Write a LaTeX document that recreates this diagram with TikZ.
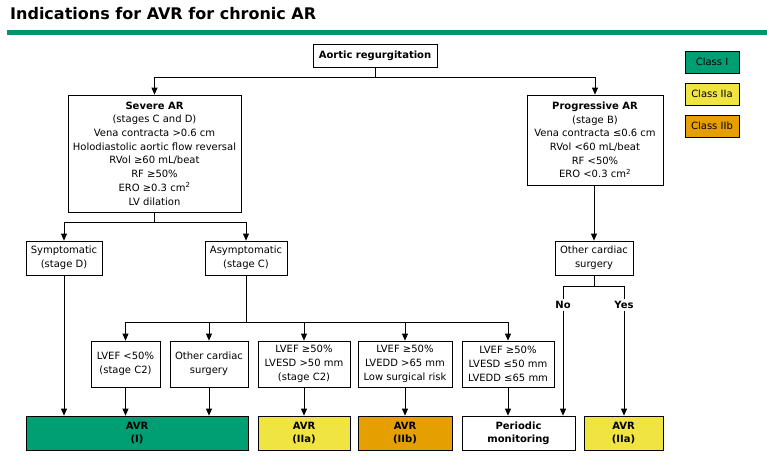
\documentclass[tikz,border=0pt]{standalone}
\usepackage{fontspec}
\setmainfont{DejaVu Sans}
\usetikzlibrary{positioning,arrows.meta}
\definecolor{ClassOne}{HTML}{009E73}
\definecolor{ClassTwoA}{HTML}{F0E442}
\definecolor{ClassTwoB}{HTML}{E69F00}
\definecolor{TitleRule}{HTML}{00956A}

\begin{document}
\begin{tikzpicture}[x=1pt,y=-1pt,every node/.style={font=\fontsize{10}{13.7}\selectfont},
  flowbox/.style={draw,line width=0.8pt,fill=white,align=center,inner sep=1pt},
  avrbox/.style={flowbox,font=\fontsize{10}{13}\selectfont\bfseries,minimum height=34pt},
  keybox/.style={flowbox,minimum width=54pt,minimum height=22pt},
  link/.style={line width=0.8pt},
  flow/.style={link,-{Triangle[width=6pt,length=7pt]}}]
  \useasboundingbox (0,0) rectangle (767,456);
  % title
  \node[anchor=base west,font=\fontsize{16}{18}\selectfont\bfseries,inner sep=0pt] (title) at (10,19) {Indications for AVR for chronic AR};
  \fill[TitleRule] (7,30) rectangle (767,34.5);
  % legend
  \node[keybox,fill=ClassOne] (keyI) at (712,62) {Class I};
  \node[keybox,fill=ClassTwoA] (keyIIa) at (712,94) {Class IIa};
  \node[keybox,fill=ClassTwoB] (keyIIb) at (712,126) {Class IIb};
  % top levels
  \node[flowbox,font=\fontsize{10}{12}\selectfont\bfseries,minimum width=124pt,minimum height=23pt] (aortic) at (375,55.5) {Aortic regurgitation};
  \node[flowbox,minimum width=173pt,minimum height=117pt] (severe) at (154.5,153.5) {\textbf{Severe AR}\\(stages C and D)\\Vena contracta >0.6 cm\\Holodiastolic aortic flow reversal\\RVol ≥60 mL/beat\\RF ≥50\%\\ERO ≥0.3 cm\textsuperscript{2}\\LV dilation};
  \node[flowbox,minimum width=136pt,minimum height=90pt] (progressive) at (595,140) {\textbf{Progressive AR}\\(stage B)\\Vena contracta ≤0.6 cm\\RVol <60 mL/beat\\RF <50\%\\ERO <0.3 cm\textsuperscript{2}};
  \node[flowbox,minimum width=76pt,minimum height=34pt] (symptomatic) at (64,258) {Symptomatic\\(stage D)};
  \node[flowbox,minimum width=82pt,minimum height=34pt] (asymptomatic) at (246,258) {Asymptomatic\\(stage C)};
  \node[flowbox,minimum width=78pt,minimum height=34pt] (otherB) at (594,258) {Other cardiac\\surgery};
  % stage C criteria
  \node[flowbox,minimum width=69pt,minimum height=46pt] (lvefLow) at (125.5,364) {LVEF <50\%\\(stage C2)};
  \node[flowbox,minimum width=78pt,minimum height=46pt] (otherC) at (209,364) {Other cardiac\\surgery};
  \node[flowbox,minimum width=92pt,minimum height=46pt] (lvesdHigh) at (304,364) {LVEF ≥50\%\\LVESD >50 mm\\(stage C2)};
  \node[flowbox,minimum width=94pt,minimum height=46pt] (lveddHigh) at (405,364) {LVEF ≥50\%\\LVEDD >65 mm\\Low surgical risk};
  \node[flowbox,minimum width=92pt,minimum height=46pt] (lvefNormal) at (508,364) {LVEF ≥50\%\\LVESD ≤50 mm\\LVEDD ≤65 mm};
  % outcomes
  \node[avrbox,fill=ClassOne,minimum width=222pt] (avrI) at (137,433) {AVR\\(I)};
  \node[avrbox,fill=ClassTwoA,minimum width=92pt] (avrIIa) at (304,433) {AVR\\(IIa)};
  \node[avrbox,fill=ClassTwoB,minimum width=94pt] (avrIIb) at (405,433) {AVR\\(IIb)};
  \node[avrbox,minimum width=113pt] (monitor) at (518.5,433) {Periodic\\monitoring};
  \node[avrbox,fill=ClassTwoA,minimum width=79pt] (avrIIaB) at (623.5,433) {AVR\\(IIa)};
  \node[font=\fontsize{10}{12}\selectfont\bfseries,inner sep=2pt] (no) at (563,305) {No};
  \node[font=\fontsize{10}{12}\selectfont\bfseries,inner sep=2pt] (yes) at (624,305) {Yes};
  % connectors
  \draw[link] (aortic.south) -- ++(0,10) coordinate (splitTop);
  \draw[flow] (splitTop) -| (severe.north);
  \draw[flow] (splitTop) -| (progressive.north);
  \draw[link] (severe.south) -- ++(0,10) coordinate (splitSevere);
  \draw[flow] (splitSevere) -| (symptomatic.north);
  \draw[flow] (splitSevere) -| (asymptomatic.north);
  \draw[link] (asymptomatic.south) -- ++(0,47) coordinate (splitC);
  \foreach \n in {lvefLow,otherC,lvesdHigh,lveddHigh,lvefNormal}
    \draw[flow] (splitC) -| (\n.north);
  \draw[flow] (symptomatic.south) -- (symptomatic.south |- avrI.north);
  \draw[flow] (lvefLow.south) -- (lvefLow.south |- avrI.north);
  \draw[flow] (otherC.south) -- (otherC.south |- avrI.north);
  \draw[flow] (lvesdHigh.south) -- (avrIIa.north);
  \draw[flow] (lveddHigh.south) -- (avrIIb.north);
  \draw[flow] (lvefNormal.south) -- (lvefNormal.south |- monitor.north);
  \draw[flow] (otherB.north |- progressive.south) -- (otherB.north);
  \draw[link] (otherB.south) -- ++(0,11) coordinate (splitB);
  \draw[link] (splitB) -| (no.north);
  \draw[link] (splitB) -| (yes.north);
  \draw[flow] (no.south) -- (no.south |- monitor.north);
  \draw[flow] (yes.south) -- (yes.south |- avrIIaB.north);
\end{tikzpicture}
\end{document}
